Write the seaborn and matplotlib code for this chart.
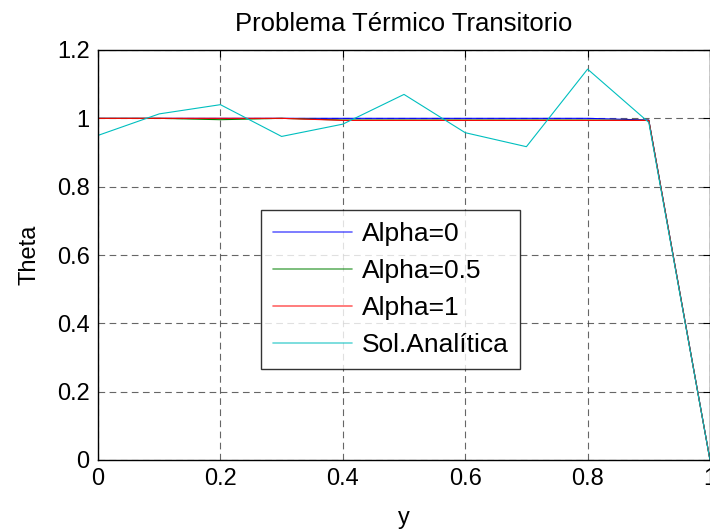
import matplotlib
matplotlib.use("Agg")
import matplotlib.pyplot as plt
import seaborn as sns
import pandas as pd

# ---- data ----
x_vals = [0.0, 0.1, 0.2, 0.3, 0.4, 0.5, 0.6, 0.7, 0.8, 0.9, 1.0]
alpha0 = [1.0, 1.0, 1.0, 1.0, 1.0, 1.0, 1.0, 1.0, 1.0, 0.995, 0.0]
alpha05 = [1.0, 1.0, 0.996, 1.0, 0.995, 0.995, 0.995, 0.995, 0.995, 0.994, 0.0]
alpha1 = [1.0, 1.0, 1.0, 1.0, 0.994, 0.994, 0.994, 0.994, 0.994, 0.994, 0.0]
analitica = [0.95, 1.013, 1.04, 0.947, 0.983, 1.07, 0.958, 0.917, 1.144, 0.988, 0.0]
series_names = ["Alpha=0", "Alpha=0.5", "Alpha=1", "Sol.Analítica"]
x_ticks = [0, 0.2, 0.4, 0.6, 0.8, 1]
x_ticklabels = ["0", "0.2", "0.4", "0.6", "0.8", "1"]
y_ticks = [0, 0.2, 0.4, 0.6, 0.8, 1, 1.2]
y_ticklabels = ["0", "0.2", "0.4", "0.6", "0.8", "1", "1.2"]
title = "Problema Térmico Transitorio"
xlabel = "y"
ylabel = "Theta"

rows = []
for name, vals in zip(series_names, [alpha0, alpha05, alpha1, analitica]):
    for xv, yv in zip(x_vals, vals):
        rows.append({"y": xv, "Theta": yv, "serie": name})
df = pd.DataFrame(rows)

sns.set_theme(style="white")
plt.rcParams["font.family"] = ["Liberation Sans", "DejaVu Sans"]
plt.rcParams["text.color"] = "black"
plt.rcParams["axes.labelcolor"] = "black"
plt.rcParams["xtick.color"] = "black"
plt.rcParams["ytick.color"] = "black"

fig = plt.figure(figsize=(7.10, 5.32), dpi=100)
ax = fig.add_axes([98 / 710, 72 / 532, 612 / 710, 410 / 532])

palette = {"Alpha=0": "#0000ff", "Alpha=0.5": "#008000",
           "Alpha=1": "#ff0000", "Sol.Analítica": "#00bfbf"}
sns.lineplot(data=df, x="y", y="Theta", hue="serie", palette=palette,
             hue_order=series_names, sort=False, estimator=None,
             linewidth=0.8, ax=ax, legend=True)

ax.set_xlim(0, 1)
ax.set_ylim(0, 1.2)
ax.set_xticks(x_ticks)
ax.set_xticklabels(x_ticklabels)
ax.set_yticks(y_ticks)
ax.set_yticklabels(y_ticklabels)
ax.grid(True, color="#404040", linestyle=(0, (6, 4)), linewidth=0.8, alpha=0.8)
ax.tick_params(direction="in", length=5, width=0.8, top=True, right=True,
               labelsize=17, colors="black", pad=6)
for s in ax.spines.values():
    s.set_color("black")
    s.set_linewidth(1.0)
ax.set_title(title, fontsize=18.5, pad=14, color="black")
ax.set_xlabel(xlabel, fontsize=17, labelpad=12, color="black")
ax.set_ylabel(ylabel, fontsize=17, labelpad=12, color="black")

leg = ax.legend(loc="upper left", bbox_to_anchor=(0.267, 0.61), fontsize=19,
                frameon=True, fancybox=False, handlelength=3.0,
                borderpad=0.45, labelspacing=0.5, handletextpad=0.35,
                borderaxespad=0)
leg.get_frame().set_edgecolor("black")
leg.get_frame().set_linewidth(1.0)
for t in leg.get_texts():
    t.set_color("black")
for line in leg.get_lines():
    line.set_linewidth(1.2)
    line.set_alpha(0.6)

fig.savefig("out.png", dpi=100)
